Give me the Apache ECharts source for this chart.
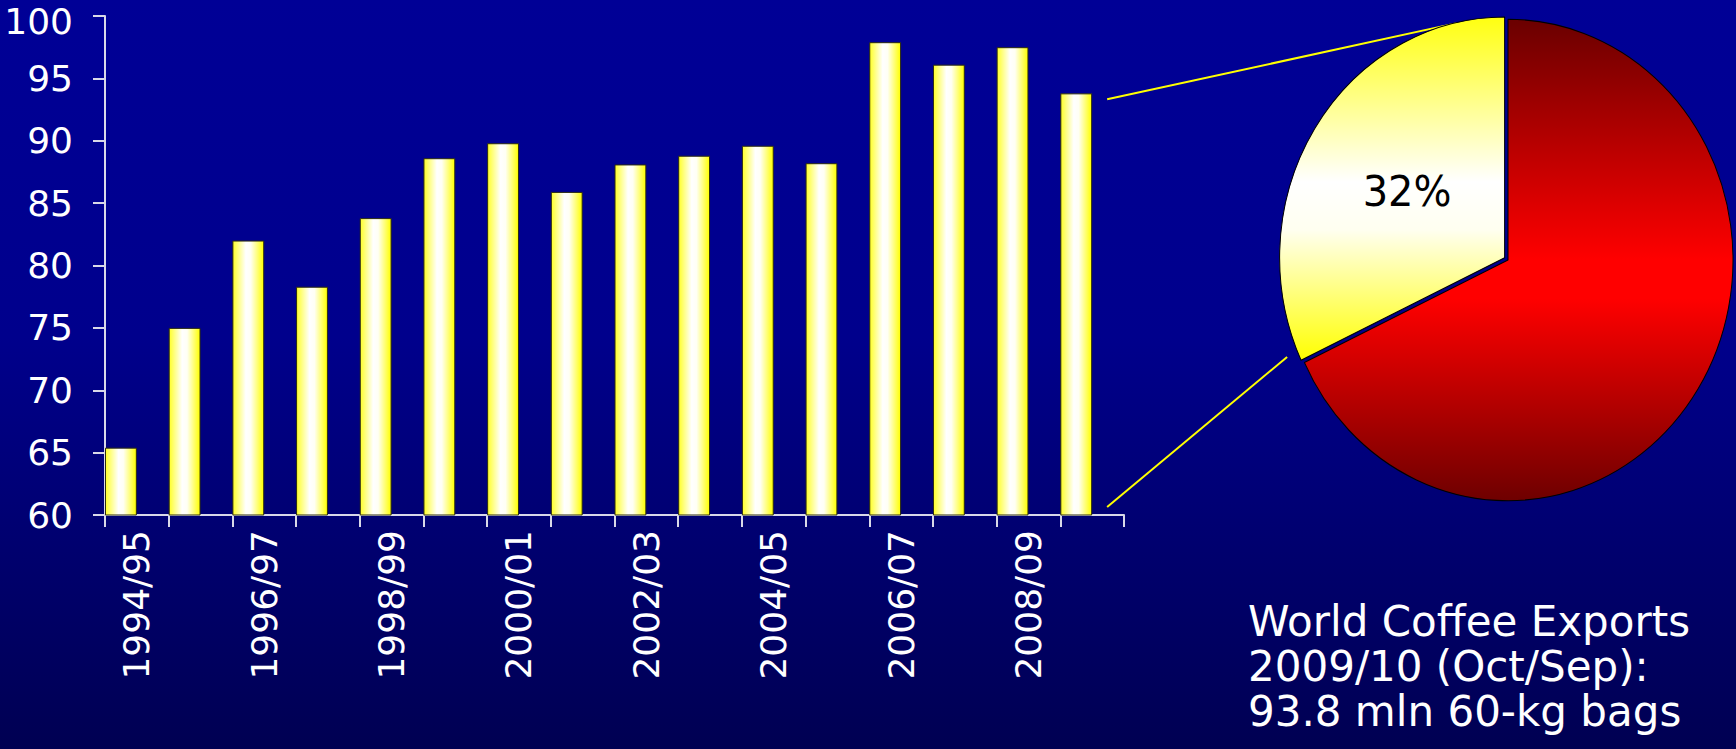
<!DOCTYPE html>
<html>
<head>
<meta charset="utf-8">
<script src="https://cdn.jsdelivr.net/npm/echarts@6/dist/echarts.min.js"></script>
<style>
  html, body { margin: 0; padding: 0; overflow: hidden; background: #000080; }
  #main { position: absolute; left: 0; top: 0; width: 1736px; height: 749px; }
  #pie { position: absolute; top: 0; height: 520px; }
</style>
</head>
<body>
<div id="main"></div>
<div id="pie"></div>
<script>
// ---- data ----
const categories = ['1994/95','1995/96','1996/97','1997/98','1998/99','1999/00','2000/01','2001/02',
                    '2002/03','2003/04','2004/05','2005/06','2006/07','2007/08','2008/09','2009/10'];
const exportsMlnBags = [65.4, 75.0, 82.0, 78.3, 83.8, 88.6, 89.8, 85.9,
                        88.1, 88.8, 89.6, 88.2, 97.9, 96.1, 97.5, 93.8];
const yMin = 60, yMax = 100, yStep = 5;
const pieNames = ['Other', 'Share'];
const pieValues = [68, 32];
const noteLines = ['World Coffee Exports', '2009/10 (Oct/Sep):', '93.8 mln 60-kg bags'];

// ---- layout constants ----
const FONT = 'DejaVu Sans';
const PIE_CX = 1508, PIE_CY = 260, PIE_RX = 225, PIE_RY = 240.7;
const PIE_DIV_W = 528;

const barGradient = {
  type: 'linear', x: 0, y: 0, x2: 1, y2: 0,
  colorStops: [
    { offset: 0, color: '#ffff28' },
    { offset: 0.42, color: '#ffffff' },
    { offset: 0.58, color: '#fffff4' },
    { offset: 1, color: '#ffff00' }
  ]
};

const main = echarts.init(document.getElementById('main'), null, { renderer: 'svg', width: 1736, height: 749 });
main.setOption({
  animation: false,
  backgroundColor: {
    type: 'linear', x: 0, y: 0, x2: 0, y2: 1,
    colorStops: [
      { offset: 0, color: '#000096' },
      { offset: 0.45, color: '#00008c' },
      { offset: 1, color: '#000052' }
    ]
  },
  grid: { left: 105, top: 16, width: 1019, height: 499 },
  xAxis: {
    type: 'category',
    data: categories,
    boundaryGap: true,
    axisLine: { show: true, lineStyle: { color: '#d8d8e8', width: 2 } },
    axisTick: { show: true, interval: 0, length: 12, lineStyle: { color: '#d8d8e8', width: 2 } },
    axisLabel: { interval: 1, rotate: 90, margin: 15, color: '#ffffff', fontSize: 36, fontFamily: FONT }
  },
  yAxis: {
    type: 'value',
    min: yMin, max: yMax, interval: yStep,
    axisLine: { show: true, lineStyle: { color: '#d8d8e8', width: 2 } },
    axisTick: { show: true, length: 12, lineStyle: { color: '#d8d8e8', width: 2 } },
    splitLine: { show: false },
    axisLabel: {
      margin: 32, color: '#ffffff', fontSize: 36, fontFamily: FONT,
      formatter: function (v) { return v === yMax ? '{top|' + v + '}' : String(v); },
      rich: { top: { fontSize: 36, fontFamily: FONT, color: '#ffffff', padding: [10, 0, 0, 0] } }
    }
  },
  series: [
    {
      type: 'bar',
      name: 'World coffee exports',
      data: exportsMlnBags,
      barGap: '0%',
      barCategoryGap: '0%',
      itemStyle: { color: barGradient, borderColor: '#2b2b10', borderWidth: 1 },
      emphasis: { disabled: true }
    },
    {
      type: 'bar',
      name: 'spacer',
      data: [],
      barGap: '0%',
      barCategoryGap: '0%'
    }
  ]
});

// connectors from the last bar to the pie
const last = exportsMlnBags.length - 1;
const topPt = main.convertToPixel({ xAxisIndex: 0, yAxisIndex: 0 }, [last, exportsMlnBags[last]]);
const basePt = main.convertToPixel({ xAxisIndex: 0, yAxisIndex: 0 }, [last, yMin]);
const startX = topPt[0] + 15;
function ellipsePt(deg, k) {
  const a = deg * Math.PI / 180;
  return [PIE_CX + k * PIE_RX * Math.cos(a), PIE_CY - k * PIE_RY * Math.sin(a)];
}
const endTop = ellipsePt(103, 1.01);
const endLow = ellipsePt(202.3, 1.061);

main.setOption({
  graphic: [
    { type: 'line', silent: true, shape: { x1: startX, y1: topPt[1] + 6, x2: endTop[0], y2: endTop[1] },
      style: { stroke: '#ffff00', lineWidth: 2 } },
    { type: 'line', silent: true, shape: { x1: startX, y1: basePt[1] - 8, x2: endLow[0], y2: endLow[1] },
      style: { stroke: '#ffff00', lineWidth: 2 } },
    { type: 'text', left: 1248, top: 599, silent: true,
      style: { text: noteLines.join('\n'), fill: '#ffffff', fontSize: 42, fontFamily: FONT, lineHeight: 45 } }
  ]
});

// ---- pie (elliptical, drawn by ECharts then stretched vertically) ----
const pieDiv = document.getElementById('pie');
const pieLocalCx = PIE_CX - (1736 - PIE_DIV_W);
pieDiv.style.left = (1736 - PIE_DIV_W) + 'px';
pieDiv.style.width = PIE_DIV_W + 'px';
pieDiv.style.transformOrigin = pieLocalCx + 'px ' + PIE_CY + 'px';
pieDiv.style.transform = 'scaleY(' + (PIE_RY / PIE_RX) + ')';

const redGradient = {
  type: 'linear', x: 0, y: 0, x2: 0, y2: 1,
  colorStops: [
    { offset: 0, color: '#6a0000' },
    { offset: 0.5, color: '#ff0000' },
    { offset: 0.58, color: '#ff0000' },
    { offset: 1, color: '#6e0000' }
  ]
};
const yellowGradient = {
  type: 'linear', x: 0, y: 0, x2: 0, y2: 1,
  colorStops: [
    { offset: 0, color: '#ffff10' },
    { offset: 0.48, color: '#ffffff' },
    { offset: 0.62, color: '#fffff0' },
    { offset: 1, color: '#ffff00' }
  ]
};

const pie = echarts.init(pieDiv, null, { renderer: 'svg', width: PIE_DIV_W, height: 520 });
pie.setOption({
  animation: false,
  backgroundColor: 'transparent',
  series: [{
    type: 'pie',
    center: [pieLocalCx, PIE_CY],
    radius: PIE_RX,
    startAngle: 90,
    clockwise: true,
    selectedMode: 'single',
    selectedOffset: 4,
    percentPrecision: 0,
    avoidLabelOverlap: false,
    emphasis: { disabled: true },
    labelLine: { show: false },
    itemStyle: { borderColor: '#000000', borderWidth: 1 },
    data: [
      { name: pieNames[0], value: pieValues[0], itemStyle: { color: redGradient }, label: { show: false } },
      { name: pieNames[1], value: pieValues[1], selected: true, itemStyle: { color: yellowGradient },
        label: { show: true, position: 'inside', formatter: '{d}%', color: '#000000', fontSize: 40,
                 fontFamily: FONT, offset: [3, 5] } }
    ]
  }]
});
</script>
</body>
</html>
